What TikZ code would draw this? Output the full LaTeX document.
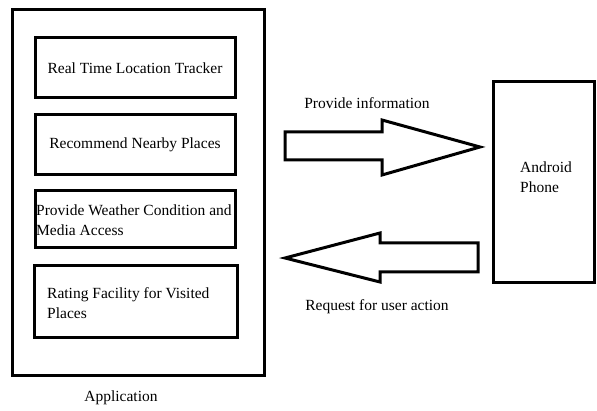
\documentclass[tikz,border=0pt]{standalone}
\usepackage{fontspec}
\setmainfont{Liberation Serif}
\begin{document}
\begin{tikzpicture}[x=1pt,y=-1pt,
  box/.style={draw, line width=3pt, inner sep=0pt},
  lbl/.style={font=\fontsize{15.5}{20}\selectfont, inner sep=0pt},
  blockarrow/.style={draw, line width=3pt, line join=miter, fill=white}]
\useasboundingbox (0,0) rectangle (597,411);
% application frame
\node[box, minimum width=252, minimum height=366] (app) at (138,193) {};
\node[box, minimum width=200, minimum height=60, lbl] (b1) at (135,68) {Real Time Location Tracker};
\node[box, minimum width=200, minimum height=60, lbl] (b2) at (135,145) {Recommend Nearby Places};
\node[box, minimum width=200, minimum height=57] (b3) at (135,219.5) {};
\node[lbl, anchor=west, align=left] (t3) at (36,220) {Provide Weather Condition and\\Media Access};
\node[box, minimum width=203, minimum height=72] (b4) at (135.5,302) {};
\node[lbl, anchor=west, align=left] (t4) at (47,303) {Rating Facility for Visited\\Places};
\node[lbl] (applbl) at (121,398) {Application};
% phone
\node[box, minimum width=101, minimum height=201] (phone) at (543.5,182.5) {};
\node[lbl, anchor=west, align=left] (phonelbl) at (520,177.5) {Android\\Phone};
% arrows
\draw[blockarrow] (285,132) -- (382,132) -- (382,120) -- (480,147) -- (382,175) -- (382,160) -- (285,160) -- cycle;
\node[lbl] (provide) at (367,103) {Provide information};
\draw[blockarrow] (478,243) -- (380,243) -- (380,233) -- (285,258) -- (380,282) -- (380,272) -- (478,272) -- cycle;
\node[lbl] (request) at (377,307) {Request for user action};
\end{tikzpicture}
\end{document}
